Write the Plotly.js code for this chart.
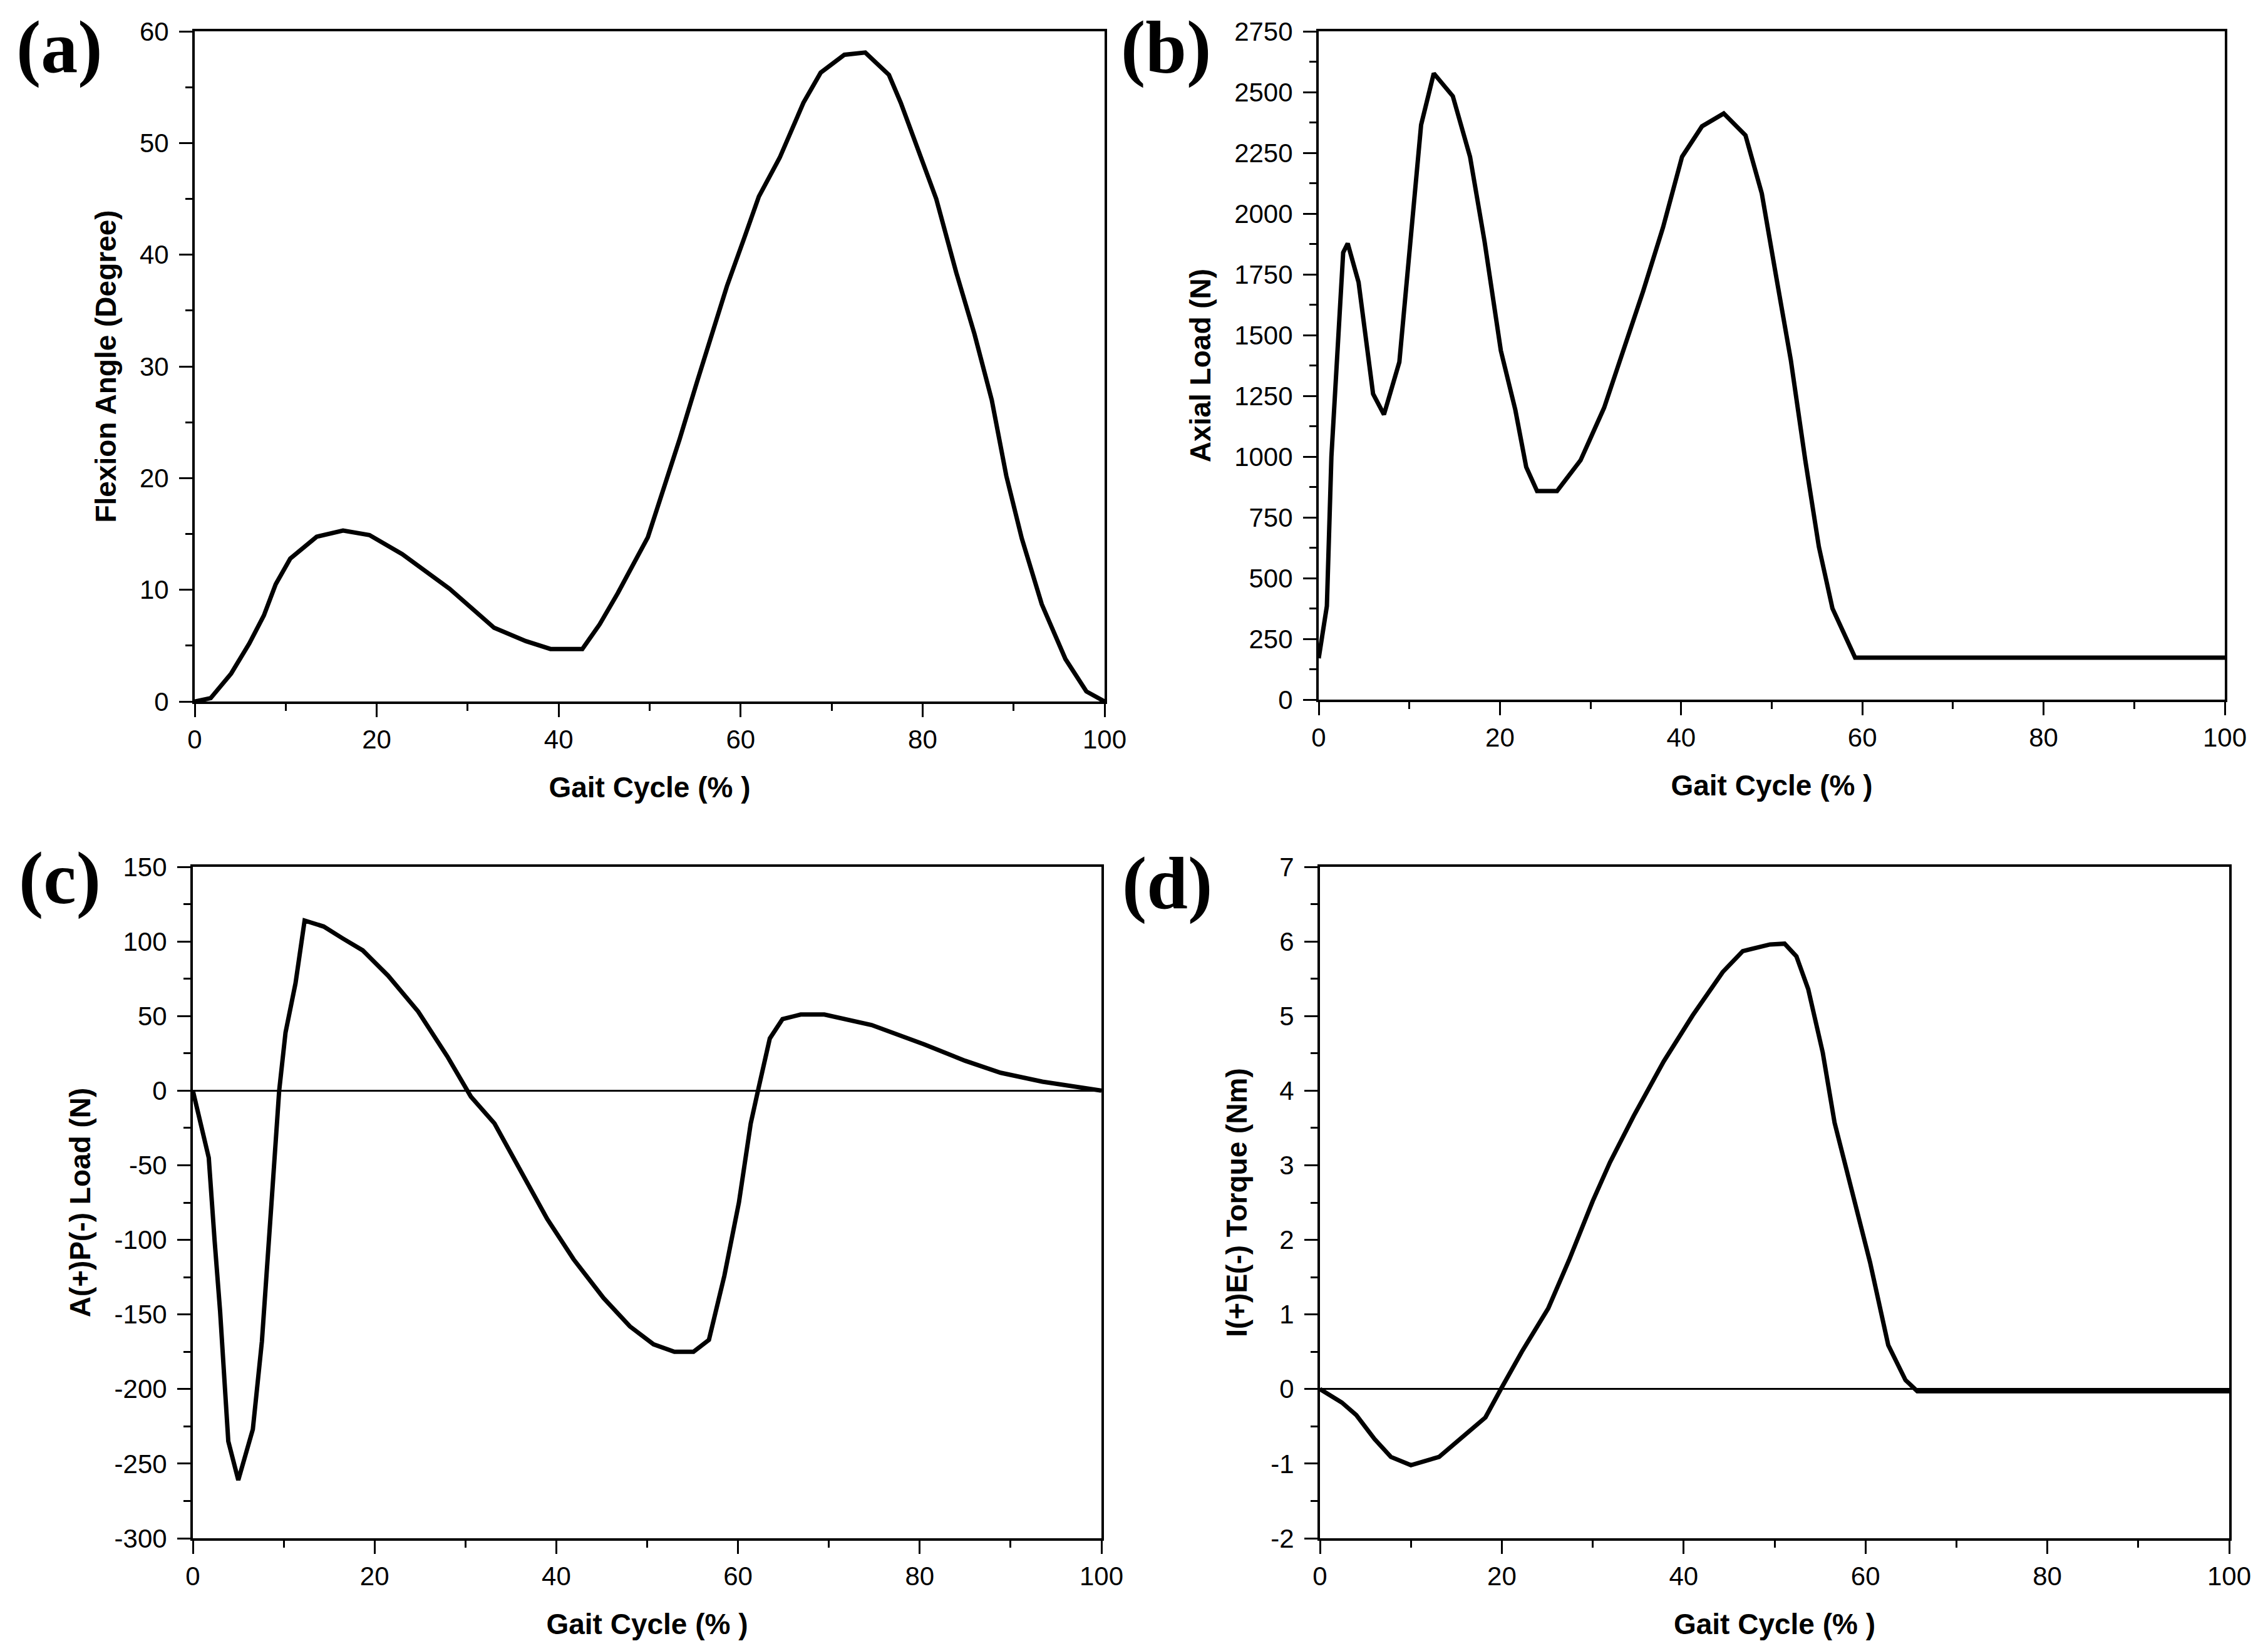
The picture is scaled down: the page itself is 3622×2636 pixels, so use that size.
<!DOCTYPE html>
<html>
<head>
<meta charset="utf-8">
<script src="https://cdn.plot.ly/plotly-3.0.1.min.js"></script>
<style>
  html, body { margin: 0; padding: 0; background: #fff; }
  #gait { width: 3622px; height: 2636px; }
</style>
</head>
<body>
<div id="gait"></div>
<script>
// (a) knee flexion angle over the gait cycle
var flexX = [0, 1.75, 4.0, 6.0, 7.6, 8.9, 10.5, 13.4, 16.3, 19.2, 22.8, 28.0, 32.9, 36.4, 39.1, 42.6, 44.5, 46.5, 49.8, 53.3, 55.2, 56.8, 58.5, 60.4, 62.0, 64.3, 66.9, 68.8, 71.4, 73.7, 76.3, 77.6, 78.9, 81.5, 83.7, 85.7, 87.6, 89.2, 90.9, 93.1, 95.7, 98.0, 100];
var flexY = [0, 0.3, 2.5, 5.2, 7.7, 10.5, 12.8, 14.75, 15.3, 14.9, 13.2, 10.1, 6.6, 5.4, 4.7, 4.7, 6.9, 9.7, 14.7, 23.5, 28.6, 32.9, 37.2, 41.5, 45.2, 48.7, 53.6, 56.3, 57.9, 58.1, 56.1, 53.6, 50.7, 45.0, 38.4, 32.9, 27.0, 20.2, 14.6, 8.7, 3.8, 0.9, 0];

// (b) axial load
var axialX = [0, 0.9, 1.4, 2.1, 2.7, 3.2, 4.4, 6.0, 7.2, 8.9, 10.0, 11.3, 12.7, 14.8, 16.7, 18.3, 20.1, 21.7, 22.9, 24.1, 26.3, 28.9, 31.5, 33.7, 35.8, 38.0, 40.1, 42.3, 44.7, 47.1, 48.9, 50.6, 52.1, 53.7, 55.2, 56.7, 59.2, 100];
var axialY = [170, 385, 1000, 1490, 1840, 1877, 1717, 1258, 1173, 1389, 1820, 2365, 2577, 2483, 2234, 1886, 1436, 1192, 957, 858, 858, 985, 1201, 1445, 1680, 1943, 2234, 2359, 2412, 2322, 2083, 1717, 1398, 985, 629, 375, 173, 173];

// (c) anterior(+)/posterior(-) load
var apX = [0, 1.75, 2.4, 3.0, 3.9, 5.0, 6.6, 7.6, 8.6, 9.5, 10.2, 11.3, 12.3, 14.4, 16.5, 18.7, 21.5, 24.8, 28.0, 30.6, 33.2, 36.1, 39.0, 41.9, 45.2, 48.1, 50.7, 53.0, 55.1, 56.8, 58.5, 60.1, 61.4, 62.2, 63.5, 64.9, 66.9, 69.5, 74.7, 80.5, 85.0, 88.9, 93.5, 100];
var apY = [0, -45, -101, -148, -235, -261, -227, -168, -80, 0, 39, 72, 114, 110, 102, 94, 77, 53, 23, -4, -22, -54, -86, -113, -139, -158, -170, -175, -175, -167, -124, -75, -22, 0, 35, 48, 51, 51, 44, 31, 20, 12, 6, 0];

// (d) internal(+)/external(-) torque
var torqueX = [0, 2.4, 4.0, 6.0, 7.8, 10.0, 13.1, 15.7, 18.2, 19.9, 22.2, 25.1, 27.4, 30.0, 31.9, 34.5, 37.8, 41.0, 44.3, 46.5, 49.5, 51.1, 52.4, 53.7, 55.3, 56.6, 58.6, 60.5, 62.5, 64.4, 65.7, 100];
var torqueY = [0, -0.18, -0.35, -0.67, -0.91, -1.02, -0.91, -0.64, -0.38, 0, 0.50, 1.08, 1.73, 2.52, 3.04, 3.66, 4.39, 5.01, 5.59, 5.87, 5.96, 5.97, 5.80, 5.36, 4.51, 3.57, 2.63, 1.70, 0.59, 0.12, -0.03, -0.03];

// tick labels (plain hyphen for negatives, as in the source figure)
var gaitTicks = [0, 20, 40, 60, 80, 100];
var flexTicks = [0, 10, 20, 30, 40, 50, 60];
var axialTicks = [0, 250, 500, 750, 1000, 1250, 1500, 1750, 2000, 2250, 2500, 2750];
var apTicks = [-300, -250, -200, -150, -100, -50, 0, 50, 100, 150];
var torqueTicks = [-2, -1, 0, 1, 2, 3, 4, 5, 6, 7];

var xTitle = 'Gait Cycle (% )';
var yTitles = ['Flexion Angle (Degree)', 'Axial Load (N)', 'A(+)P(-) Load (N)', 'I(+)E(-) Torque (Nm)'];
var panelLabels = ['(a)', '(b)', '(c)', '(d)'];

var W = 3622, H = 2636;
var tickFont = {family: 'Liberation Sans, Arial, sans-serif', size: 42, color: '#000'};
var titleFont = {family: 'Liberation Sans, Arial, sans-serif', size: 46, color: '#000', weight: 'bold'};

function line(x, y, n) {
    return {
        x: x, y: y, type: 'scatter', mode: 'lines',
        xaxis: 'x' + (n > 1 ? n : ''), yaxis: 'y' + (n > 1 ? n : ''),
        line: {color: '#000', width: 7},
        showlegend: false, hoverinfo: 'skip'
    };
}

var data = [
    line(flexX, flexY, 1),
    line(axialX, axialY, 2),
    line(apX, apY, 3),
    line(torqueX, torqueY, 4)
];

function labels(vals) {
    return vals.map(function (v) { return String(v); });
}

function xAxis(n, x0, x1) {
    return {
        domain: [x0 / W, x1 / W], anchor: 'y' + (n > 1 ? n : ''),
        range: [0, 100], tickmode: 'array', tickvals: gaitTicks, ticktext: labels(gaitTicks),
        ticks: 'outside', ticklen: 21, tickwidth: 3, tickcolor: '#000',
        minor: {dtick: 10, tick0: 0, ticks: 'outside', ticklen: 11, tickwidth: 3, tickcolor: '#000'},
        showline: true, linewidth: 4, linecolor: '#000', mirror: true,
        showgrid: false, zeroline: false, automargin: false,
        tickfont: tickFont, ticklabelstandoff: 0,
        title: {text: xTitle, font: titleFont, standoff: 38},
        fixedrange: true
    };
}

function yAxis(n, y0, y1, range, ticks, zero, standoff) {
    var step = ticks[1] - ticks[0];
    return {
        domain: [1 - y1 / H, 1 - y0 / H], anchor: 'x' + (n > 1 ? n : ''),
        range: range, tickmode: 'array', tickvals: ticks, ticktext: labels(ticks),
        ticks: 'outside', ticklen: 21, tickwidth: 3, tickcolor: '#000',
        minor: {dtick: step / 2, tick0: 0, ticks: 'outside', ticklen: 11, tickwidth: 3, tickcolor: '#000'},
        showline: true, linewidth: 4, linecolor: '#000', mirror: true,
        showgrid: false, zeroline: zero, zerolinecolor: '#000', zerolinewidth: 3,
        automargin: false, tickfont: tickFont, ticklabelstandoff: 8,
        title: {text: yTitles[n - 1], font: titleFont, standoff: standoff},
        fixedrange: true
    };
}

var labelPos = [[95, 76], [1862, 76], [95, 1402], [1864, 1410]];
var annotations = panelLabels.map(function (t, i) {
    return {
        text: t, xref: 'paper', yref: 'paper',
        x: labelPos[i][0] / W, y: 1 - labelPos[i][1] / H,
        xanchor: 'center', yanchor: 'middle', showarrow: false,
        font: {family: 'Liberation Serif, Times New Roman, serif', size: 118, color: '#000', weight: 'bold'}
    };
});

var layout = {
    width: W, height: H,
    margin: {l: 0, r: 0, t: 0, b: 0},
    paper_bgcolor: '#fff', plot_bgcolor: '#fff',
    showlegend: false,
    xaxis: xAxis(1, 311, 1764),
    yaxis: yAxis(1, 50, 1120, [0, 60], flexTicks, false, 24),
    xaxis2: xAxis(2, 2106, 3553),
    yaxis2: yAxis(2, 50, 1117, [0, 2750], axialTicks, false, 24),
    xaxis3: xAxis(3, 308, 1759),
    yaxis3: yAxis(3, 1384, 2456, [-300, 150], apTicks, true, 24),
    xaxis4: xAxis(4, 2108, 3560),
    yaxis4: yAxis(4, 1384, 2456, [-2, 7], torqueTicks, true, 24),
    annotations: annotations
};

Plotly.newPlot('gait', data, layout, {displayModeBar: false, staticPlot: true});
</script>
</body>
</html>
